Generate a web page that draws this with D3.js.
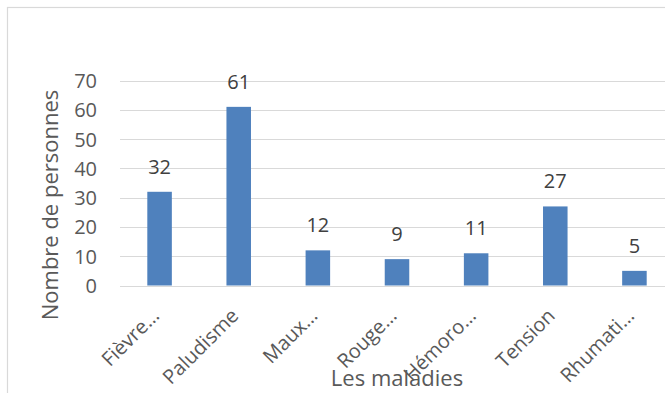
<!DOCTYPE html>
<html>
<head>
<meta charset="utf-8">
<script src="https://cdn.jsdelivr.net/npm/d3@7"></script>
<style>
  html, body { margin: 0; padding: 0; background: #fff; }
  svg { display: block; font-family: "Open Sans", sans-serif; }
</style>
</head>
<body>
<svg id="chart" width="665" height="393"></svg>
<script>
const categories = ["Fièvre…", "Paludisme", "Maux…", "Rouge…", "Hémoro…", "Tension", "Rhumati…"];
const values = [32, 61, 12, 9, 11, 27, 5];
const yTicks = [0, 10, 20, 30, 40, 50, 60, 70];
const yTitle = "Nombre de personnes";
const xTitle = "Les maladies";

const svg = d3.select("#chart");
const W = 665, H = 393;
const plot = { left: 120, right: 674, top: 80.5, bottom: 285.5 };

svg.append("rect").attr("x", 0).attr("y", 0).attr("width", W).attr("height", H).attr("fill", "#fff");
// outer chart border (cropped at right and bottom)
svg.append("rect").attr("x", 7.5).attr("y", 7.5).attr("width", 720).attr("height", 420)
  .attr("fill", "none").attr("stroke", "#d9d9d9").attr("stroke-width", 1.2);

const x = d3.scaleBand().domain(categories).range([plot.left, plot.right]).paddingInner(0.69).paddingOuter(0.345);
const y = d3.scaleLinear().domain([0, 70]).range([plot.bottom, plot.top]);

// gridlines
svg.append("g").selectAll("line").data(yTicks.filter(d => d > 0)).join("line")
  .attr("x1", plot.left).attr("x2", plot.right)
  .attr("y1", d => Math.round(y(d)) + 0.5).attr("y2", d => Math.round(y(d)) + 0.5)
  .attr("stroke", "#d9d9d9").attr("stroke-width", 1.2);

// y axis labels
const yAxis = d3.axisLeft(y).tickValues(yTicks).tickSize(0).tickPadding(0).tickFormat(d3.format("d"));
const gy = svg.append("g").attr("transform", `translate(97,0)`).call(yAxis);
gy.select(".domain").remove();
gy.selectAll("text").attr("font-size", 20).attr("fill", "#595959").attr("font-family", "Open Sans").attr("dy", "0.35em");

// bars
svg.append("g").selectAll("rect").data(values).join("rect")
  .attr("x", (d, i) => x(categories[i]))
  .attr("width", x.bandwidth())
  .attr("y", d => y(d))
  .attr("height", d => y(0) - y(d))
  .attr("fill", "#4f81bd");

// x axis line
svg.append("line").attr("x1", plot.left).attr("x2", plot.right)
  .attr("y1", Math.round(y(0)) + 0.5).attr("y2", Math.round(y(0)) + 0.5)
  .attr("stroke", "#d9d9d9").attr("stroke-width", 1.2);

// value labels
svg.append("g").selectAll("text").data(values).join("text")
  .attr("x", (d, i) => x(categories[i]) + x.bandwidth() / 2)
  .attr("y", d => y(d) - 18)
  .attr("text-anchor", "middle")
  .attr("font-size", 20).attr("fill", "#404040")
  .text(d => d);

// category labels
const xAxis = d3.axisBottom(x).tickSize(0).tickPadding(0);
const gx = svg.append("g").attr("transform", `translate(0,0)`).call(xAxis);
gx.select(".domain").remove();
gx.selectAll(".tick").attr("transform", d => `translate(${x(d) + x.bandwidth() / 2 + 1},317)`);
gx.selectAll("text").attr("y", 0).attr("dy", 0)
  .attr("text-anchor", "end").attr("transform", "rotate(-45)")
  .attr("font-size", 20).attr("fill", "#595959").attr("font-family", "Open Sans");

// axis titles
svg.append("text").attr("x", (plot.left + plot.right) / 2).attr("y", 386)
  .attr("text-anchor", "middle").attr("font-size", 22).attr("fill", "#595959").text(xTitle);
svg.append("text").attr("transform", `translate(58,205) rotate(-90)`)
  .attr("text-anchor", "middle").attr("font-size", 22).attr("fill", "#595959").text(yTitle);
</script>
</body>
</html>
